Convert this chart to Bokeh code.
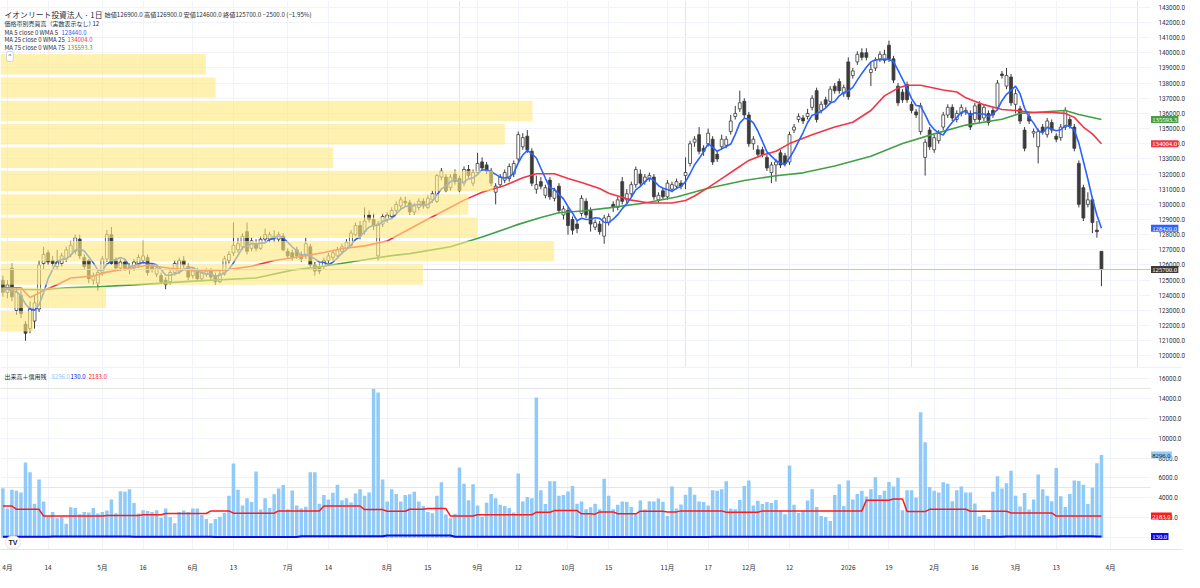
import numpy as np
import pandas as pd
from bokeh.plotting import figure
from bokeh.layouts import gridplot
from bokeh.models import (Range1d, FixedTicker, SingleIntervalTicker, NumeralTickFormatter,
                          Label, LabelSet, Span, ColumnDataSource, Grid, LinearAxis)
from bokeh.embed import file_html
from bokeh.resources import INLINE

# ---------------- data ----------------
days = list(range(-1, 243))  # trading-day index, 0 = 2025-04-01

opens = [125000,124200,125800,123000,124000,122100,121800,122300,123100,126100,
         126800,126300,125900,126100,126400,126700,126900,127700,126500,126300,
         125000,124800,125500,126400,128000,126300,125800,126200,125900,125800,
         126000,126300,126500,126000,125400,125300,125000,124900,125500,125600,
         126300,125900,125300,125600,125100,125400,125600,125300,124900,125400,
         126300,126800,127000,127200,128200,127100,127400,127100,127700,127700,
         127800,127700,127900,126900,126800,127000,126700,126600,127200,126000,
         125900,125900,126300,126500,126600,126900,127100,127300,128000,128600,
         128200,129300,129000,126600,128700,129000,129200,129600,129900,130200,
         130100,129500,129800,130200,129800,130300,130200,131800,131800,131100,
         132000,131700,131400,132300,131400,132100,132800,132600,132200,130800,
         131300,131600,131700,132000,133000,133800,134500,133500,131000,131500,
         130600,131600,130400,131200,129300,129600,129000,128700,129400,130200,
         129600,128500,128700,127900,128800,130000,129800,131500,130300,130700,
         131300,132000,131500,131700,131800,130300,130900,130500,131000,131200,
         131400,131900,132700,134100,134600,133700,134000,134300,133300,133800,
         133900,134800,135800,136300,136800,135900,134000,133600,133600,133100,
         132100,132600,133400,133200,132800,134900,135600,135700,135800,136400,
         137500,136200,136900,136800,137800,138100,137300,139400,138500,139400,
         140000,140000,138700,139000,139600,139500,140500,139600,137800,137400,
         137900,136600,136100,134800,133100,134900,133600,134200,135100,135900,
         136400,135600,136000,136100,136000,135600,136600,135700,136000,136200,
         136400,138600,137800,138400,136600,136300,134900,135800,134700,133800,
         135100,134600,135400,134500,134400,135100,135600,135100,132700,131100,
         130000,130300,128300,126900]

highs = [125300,125000,126100,124500,124300,122300,123600,124000,126300,127200,
         127000,126600,127000,126800,127200,127600,128000,128000,126700,126400,
         125500,125700,126600,128300,128500,126500,126400,126400,126100,126400,
         126700,127600,126700,126100,126000,125500,125200,125700,126300,126500,
         126600,126100,125800,125800,125700,125800,125800,125500,125600,126600,
         126900,128800,127800,128100,128800,127800,127700,127900,128400,128200,
         128300,128200,128100,127100,127000,127200,126900,127800,127400,126200,
         126100,126500,126800,127000,127200,127400,127700,128300,128800,128900,
         129800,129600,129400,128900,129400,129500,129800,130200,130500,130500,
         130300,130100,130400,130400,130600,130900,132000,132400,132000,132000,
         132300,131900,132500,132600,132300,133400,133100,132800,132400,131400,
         132000,132300,132700,132900,134800,134700,134900,133700,131900,131800,
         131300,131800,131100,131400,129900,129800,129200,128900,130600,130400,
         129800,129000,128900,129300,129400,130200,130500,131800,131000,131500,
         132500,132300,132000,132100,132000,130800,131100,131600,131500,131700,
         131600,133100,134200,134500,135100,133900,135000,134500,133500,134600,
         134500,135900,136500,137500,137000,136100,134500,133900,133800,133300,
         132800,133000,133600,133400,134800,135300,136000,135900,136300,137200,
         137700,136800,137100,137800,138000,138300,137900,139700,139000,140100,
         140300,140300,139400,139700,140100,140200,140800,139800,138000,137600,
         138100,136800,136300,136700,134300,135100,134600,134900,136100,136600,
         136600,136200,136600,136400,136200,136700,136800,136600,136200,136400,
         138200,138800,139000,138600,137600,136500,135100,136000,135000,135000,
         135300,135700,135600,134700,135300,136400,135800,135300,132900,131300,
         130800,130500,128900,126900]

lows = [123900,123800,123600,122700,122500,121000,121500,121800,122900,125700,
        126000,125900,125700,125900,126200,126500,126700,126400,125700,124800,
        124700,124300,125300,126200,126000,125600,125600,125600,125400,125600,
        125800,126100,125300,125500,125200,124800,124400,124700,125300,125400,
        125800,125000,125100,124900,124900,125200,125000,124700,124800,125300,
        126100,126600,126800,127000,126700,126900,126900,127000,127500,127500,
        127500,127500,126900,126400,126300,126400,126200,126400,125800,125300,
        125400,125700,126100,126300,126500,126700,127000,127200,127900,127700,
        128000,128800,128300,126300,128500,128800,129000,129400,129700,129900,
        129300,129300,129600,129700,129700,130100,130100,131600,130800,130900,
        131300,130800,131200,131700,131200,131900,132200,132000,131200,130000,
        131100,131400,131500,131800,132800,133600,133400,131200,130700,131000,
        130400,130300,130200,129400,129000,128000,128000,128100,129200,129100,
        128200,128300,128000,127400,128600,129500,129600,130000,130000,130500,
        131100,131200,131300,131500,130300,130100,130300,130300,130800,131000,
        131000,131000,132500,133800,133300,133200,133800,132600,132800,133600,
        133700,134600,135600,136100,135700,133800,133600,133100,133100,132200,
        131400,131500,132400,132500,132600,134700,135400,135300,135600,136200,
        135400,136000,136400,136600,137300,137300,137100,136900,138300,139200,
        139500,139500,137800,138800,139400,139300,139400,138000,136500,136700,
        136700,136000,135700,134600,131900,133600,133400,134000,134900,135700,
        135500,135400,135800,135900,134900,135400,135400,135500,135200,135700,
        136200,138300,137600,136500,136000,135300,133500,135300,134400,132700,
        134600,134400,134700,134100,134200,134900,135000,133500,129800,128900,
        129800,128100,127800,124600]

closes = [124200,124700,123900,124200,122800,121500,123100,123500,126000,126700,
          126200,126100,126200,126600,127000,127300,127800,126600,125900,125100,
          125300,125500,126400,128000,126100,125800,126200,125800,125700,126200,
          126500,126600,125500,125700,125800,124900,124700,125500,126100,126300,
          126000,125200,125600,125100,125500,125600,125200,124900,125400,126400,
          126700,127300,127400,127900,126900,127600,127100,127700,128000,128000,
          127900,128000,127000,126600,126500,126600,126400,127400,126000,125600,
          125600,126300,126600,126800,127000,127200,127500,128100,128600,127900,
          128900,129000,128600,128700,129200,129300,129600,130000,130300,130100,
          129500,129900,130200,129900,130400,130700,131900,132200,130900,131800,
          131500,130900,132300,131900,132100,132700,132400,132200,131400,131200,
          131800,132100,132500,132700,134600,134400,133600,131400,131300,131200,
          131100,130500,130900,129600,129700,128600,128300,128400,130400,129300,
          128700,128800,128200,129100,129200,129800,130300,130200,130700,131300,
          132300,131400,131800,131900,130500,130600,130500,131400,131300,131500,
          131200,132100,134000,134300,133500,133500,134700,132800,133000,134300,
          134300,135500,136000,136700,135900,134000,134300,133300,133300,132400,
          132600,132800,132600,132700,134600,135100,135800,135500,136000,137000,
          135600,136600,136600,137600,137500,137500,137700,137100,138800,139900,
          139700,139700,138900,139500,139900,139900,139600,138200,136700,136900,
          136900,136200,135900,136500,134100,133800,134400,134700,135900,136400,
          135700,136000,136400,136200,135100,136500,135600,136400,135400,135900,
          138000,138500,138500,136700,137300,135500,133700,135500,134800,134800,
          134800,135500,134900,134300,135100,136200,135200,133700,130000,129100,
          130300,128800,128200,125700]

volumes = [4970,2930,4810,4710,4550,7540,6570,3410,5850,3640,
           2110,2600,1950,2110,1400,3060,2990,2370,2600,2540,
           2990,2440,2600,2730,3840,2470,4680,4620,4880,3480,
           2440,2760,2700,2600,2760,2020,2930,2080,1460,2600,
           2730,2600,2930,2930,2280,1890,1460,1890,2110,2500,
           4230,7440,4810,3250,3970,3580,6660,2830,3970,2990,
           4360,4940,5300,2860,4750,3250,2930,3120,6570,6570,
           3410,4290,3840,4520,5330,3770,3970,3540,4450,4880,
           4230,4550,14920,14560,5850,3640,4880,4390,3640,4290,
           4360,4620,3640,3190,2600,2470,4230,5560,2340,1950,
           2410,7050,5430,3770,5360,3250,2110,3510,4390,3970,
           3320,3190,2990,2540,6440,3640,4100,3970,14070,4780,
           3380,5660,5660,4230,4290,4650,5200,3410,3640,2860,
           3060,3410,2860,5920,4230,2860,3320,3640,3580,3090,
           2440,3740,2830,3670,3640,3930,3610,2210,5140,2930,
           3350,4320,5100,4320,3640,3580,3250,4780,4710,4880,
           5660,2930,2860,3800,5200,5750,3250,3710,3380,3580,
           3480,3800,2700,2370,7250,3320,2500,2700,3740,4880,
           3090,2180,2080,1690,4290,5360,3190,5750,3840,4390,
           4710,4130,4880,6080,4290,4710,5590,5140,6010,2760,
           4780,4780,4030,12580,9590,5100,4710,4550,5560,5430,
           3670,4780,5140,4550,4550,3450,2150,2280,1890,4620,
           6180,4940,5460,6730,4230,3150,4490,2830,3840,6340,
           4880,4230,3670,6990,4160,3090,4390,5750,5690,5330,
           3380,5010,7480,8296]

# weekly margin balances (信用残): day index where each value starts, and value
margin_buy_start = [-1, 2, 8, 22, 30, 35, 45, 50, 60, 70, 79, 84, 89, 93, 98, 104, 117, 121, 127,
                    130, 131, 135, 140, 146, 149, 159, 167, 190, 196, 199, 204, 213, 222, 232]
margin_buy_value = [3190, 2860, 2180, 2240, 2310, 2440, 2700, 2470, 2700, 3190, 2830, 2670, 2860, 2930,
                    2180, 2310, 2570, 2730, 2410, 2370, 2600, 2410, 2670, 2600, 2700, 2570, 2700, 3770,
                    3900, 2630, 2860, 2670, 2500, 2183]
margin_sell_start = [-1, 10, 28, 46, 65, 84, 99, 113, 126, 156, 186, 221, 233, 241]
margin_sell_value = [110, 140, 120, 90, 150, 230, 100, 120, 90, 110, 100, 130, 150, 130]

# moving averages
ma25_idx = [-1, 3, 5, 8, 11, 14, 19, 22, 27, 31, 36, 42, 48, 54, 59, 65, 70, 74, 79, 84,
            88, 92, 97, 101, 105, 110, 114, 117, 121, 124, 127, 131, 133, 138, 142, 147, 150, 152, 155, 158,
            161, 164, 167, 170, 173, 178, 183, 187, 191, 194, 197, 199, 202, 207, 210, 212, 216, 220, 223, 227,
            231, 234, 236, 238, 240, 242]
ma25_val = [124500, 124500, 123860, 124310, 124700, 125140, 125270, 125530, 125790, 125980,
            125790, 125600, 125660, 125920, 126300, 126560, 126820, 127070, 127260, 127580,
            128230, 128870, 129640, 130280, 130800, 131250, 131760, 132020, 132020, 131700,
            131440, 131050, 130730, 130280, 130090, 130090, 130250, 130550, 131100, 131700,
            132300, 132900, 133250, 133500, 134010, 134590, 135100, 135420, 136190, 137160,
            137670, 137860, 137860, 137540, 137410, 137030, 136580, 136260, 136190, 136060,
            136060, 136000, 135740, 135100, 134650, 134004]
ma75_idx = [-1, 8, 13, 20, 28, 35, 42, 55, 63, 70, 78, 85, 89, 98, 105, 113, 118, 122, 127, 133,
            141, 148, 155, 163, 170, 176, 183, 191, 198, 205, 212, 220, 224, 227, 234, 237, 242]
ma75_val = [124400, 124370, 124500, 124560, 124690, 124820, 124950, 125140, 125660, 125920,
            126300, 126620, 126750, 127200, 127840, 128680, 129130, 129450, 129560, 129770,
            130090, 130480, 131060, 131570, 131890, 132080, 132530, 133170, 134010, 134650,
            135230, 135610, 136000, 136060, 136190, 135930, 135593.3]

# visible-range volume profile (価格帯別売買高), 12 rows
profile_price = [139243, 137702, 136161, 134620, 133079, 131538, 129997, 128456, 126915, 125374, 123833, 122292]
profile_volume = [20.8, 21.8, 53.9, 51.1, 33.7, 49.9, 47.4, 48.3, 56.1, 42.8, 10.7, 3.3]
profile_row = 1541

tick_pos = [0, 9, 21, 30, 41, 50, 62, 71, 84, 93, 104, 113, 124, 133, 146, 155, 164, 173, 186, 195,
            205, 214, 223, 232, 244]
tick_labels = ["4月", "14", "5月", "16", "6月", "13", "7月", "14", "8月", "15", "9月", "12", "10月", "15",
               "11月", "17", "12月", "12", "2026", "19", "2月", "16", "3月", "13", "4月"]

# ---------------- styling ----------------
DW = 1150            # px of the chart area
FW = 1182            # px of the whole frame (chart area + price scale)
H1, H2 = 367, 182
CJK = "Noto Sans CJK JP"
GRID = "#f0f3fa"
CANDLE = "#3b3b3b"
C_MA5, C_MA25, C_MA75 = "#2962FF", "#F23645", "#43A047"
C_BUY, C_SELL, C_VOL = "#FF1A1A", "#0A0AF0", "#90CAF9"

X0, X1 = -1.53, 252.85                       # visible day range of the chart area
x_range = Range1d(X0, X0 + (X1 - X0) * FW / DW)

def scale_panel(fig, y_lo, y_hi, interval, values, bgs, fgs):
    # white price-scale background (grid lines do not run under the scale)
    fig.quad(left=X1, right=x_range.end, bottom=y_lo, top=y_hi, fill_color="white", line_color=None)
    ax = LinearAxis(ticker=SingleIntervalTicker(interval=interval), formatter=NumeralTickFormatter(format="0.0"),
                    axis_line_color=None, major_tick_line_color=None, minor_tick_line_color=None,
                    major_tick_in=0, major_tick_out=0,
                    major_label_text_font_size="6.3px", major_label_text_color="#2a2e39",
                    major_label_text_font="Roboto", major_label_standoff=-(FW - DW) + 4)
    fig.add_layout(ax, "right")
    s = ColumnDataSource(dict(x=[DW + 0.5] * len(values), y=values,
                              text=["\u2009" + f"{v:.1f}" + "\u2009" for v in values], bg=bgs, fg=fgs))
    fig.add_layout(LabelSet(x="x", y="y", x_units="screen", y_units="data", text="text", source=s,
                            text_color="fg", background_fill_color="bg", text_font_size="6.6px",
                            text_font="Roboto", text_baseline="middle", text_align="left"))
    fig.add_layout(Grid(dimension=1, ticker=SingleIntervalTicker(interval=interval), grid_line_color=GRID))

P_LO, P_HI = 119237, 143450
p = figure(frame_width=FW, frame_height=H1, x_range=x_range, y_range=Range1d(P_LO, P_HI),
           y_axis_location=None, x_axis_location=None, toolbar_location=None, output_backend="svg",
           min_border_left=0, min_border_right=0, min_border_top=0, min_border_bottom=0,
           outline_line_color=None, background_fill_color="white", border_fill_color="white")
p.add_layout(Grid(dimension=0, ticker=FixedTicker(ticks=tick_pos), grid_line_color=GRID))

o = np.array(opens, float); c = np.array(closes, float)
src = ColumnDataSource(dict(x=days, high=highs, low=lows,
                            top=np.maximum(o, c), bottom=np.minimum(o, c),
                            fill=[("white" if cc >= oo else CANDLE) for oo, cc in zip(opens, closes)]))
p.segment("x", "low", "x", "high", source=src, line_color=CANDLE, line_width=1)
p.vbar(x="x", width=0.64, top="top", bottom="bottom", source=src, fill_color="fill",
       line_color=CANDLE, line_width=0.8)

ma5 = pd.Series(closes, dtype=float).rolling(5, min_periods=1).mean()
p.line(ma75_idx, ma75_val, line_color=C_MA75, line_width=1.6)
p.line(ma25_idx, ma25_val, line_color=C_MA25, line_width=1.6)
p.line(days, ma5.values, line_color=C_MA5, line_width=1.6)

p.segment(x0=X0, x1=X1, y0=closes[-1], y1=closes[-1], line_color="#c3c6ce", line_width=1)

pv = np.array(profile_volume)
widths = pv / pv.max() * 0.4815 * (X1 - X0)
p.hbar(y=profile_price, height=profile_row * 0.875, left=X0, right=X0 + widths,
       fill_color="#FFE97F", fill_alpha=0.62, line_color=None)

scale_panel(p, P_LO, P_HI, 1000,
            [ma75_val[-1], ma25_val[-1], float(ma5.values[-1]), float(closes[-1])],
            [C_MA75, C_MA25, C_MA5, "#3b3b3b"], ["white"] * 4)

def txt(fig, x, y, text, color="#2a2e39", size="6px", font=CJK, style="normal"):
    fig.add_layout(Label(x=x, y=y, x_units="screen", y_units="screen", text=text, text_color=color,
                         text_font_size=size, text_font=font, text_font_style=style,
                         text_baseline="middle", text_align="left"))

sy = lambda yref: H1 - yref * H1 / 377.0
txt(p, 4, sy(14), "イオンリート投資法人 · 1日", size="7.8px")
txt(p, 104, sy(14), "始値126900.0  高値126900.0  安値124600.0  終値125700.0  −2500.0 (−1.95%)", size="6.2px")
txt(p, 4, sy(24), "価格帯別売買高（実数表示なし）", size="6px")
txt(p, 92, sy(24), "12", size="6px")
txt(p, 4, sy(32.5), "MA 5 close 0 WMA 5", size="6px")
txt(p, 61, sy(32.5), "128440.0", color=C_MA5, size="6px")
txt(p, 4, sy(40), "MA 25 close 0 WMA 25", size="6px")
txt(p, 67, sy(40), "134004.0", color=C_MA25, size="6px")
txt(p, 4, sy(48), "MA 75 close 0 WMA 75", size="6px")
txt(p, 67, sy(48), "135593.3", color=C_MA75, size="6px")
p.add_layout(Label(x=6, y=sy(57.5), x_units="screen", y_units="screen", text="^", text_font_size="6px",
                   text_color="#2a2e39", text_baseline="middle", background_fill_color="white",
                   border_line_color="#d1d4dc", padding=2, border_radius=2))

# ---------------- volume pane ----------------
V_LO, V_HI = -1170, 17073
q = figure(frame_width=FW, frame_height=H2, x_range=x_range, y_range=Range1d(V_LO, V_HI),
           y_axis_location=None, toolbar_location=None, output_backend="svg",
           min_border_left=0, min_border_right=0, min_border_top=0, min_border_bottom=0,
           outline_line_color=None, background_fill_color="white", border_fill_color="white")
q.xaxis.ticker = FixedTicker(ticks=tick_pos)
q.xaxis.major_label_overrides = {t: l for t, l in zip(tick_pos, tick_labels)}
q.xaxis.axis_line_color = "#e0e3eb"
q.xaxis.major_tick_line_color = None
q.xaxis.minor_tick_line_color = None
q.xaxis.major_label_text_font_size = "6.5px"
q.xaxis.major_label_text_font = CJK
q.xaxis.major_label_text_color = "#2a2e39"
q.xaxis.major_label_standoff = 6
q.xgrid.grid_line_color = GRID

q.vbar(x=days, top=volumes, width=0.78, fill_color=C_VOL, line_color=None)
buy_daily = np.array(margin_buy_value)[np.searchsorted(margin_buy_start, days, side="right") - 1]
sell_daily = np.array(margin_sell_value)[np.searchsorted(margin_sell_start, days, side="right") - 1]
q.line(days, buy_daily, line_color=C_BUY, line_width=1.5)
q.line(days, sell_daily, line_color=C_SELL, line_width=2)
q.add_layout(Span(location=V_HI, dimension="width", line_color="#e0e3eb", line_width=1))

scale_panel(q, V_LO, V_HI, 2000,
            [float(volumes[-1]), float(margin_buy_value[-1]), float(margin_sell_value[-1])],
            [C_VOL, C_BUY, C_SELL], ["#131722", "white", "white"])

sy2 = lambda yref: H2 - (yref - 378) * H2 / 187.0
txt(q, 4, sy2(387), "出来高＋信用残", size="6px")
txt(q, 51, sy2(387), "8296.0", color=C_VOL, size="6px")
txt(q, 70, sy2(387), "130.0", color=C_SELL, size="6px")
txt(q, 88, sy2(387), "2183.0", color=C_BUY, size="6px")
q.add_layout(Label(x=5, y=7, x_units="screen", y_units="screen", text="TV", text_font_size="7px",
                   text_font_style="bold", text_color="#131722", text_baseline="middle",
                   background_fill_color="white", border_line_color="#e0e3eb", padding=3, border_radius=8))

grid = gridplot([[p], [q]], toolbar_location=None)
open("out.html", "w").write(file_html(grid, INLINE))
